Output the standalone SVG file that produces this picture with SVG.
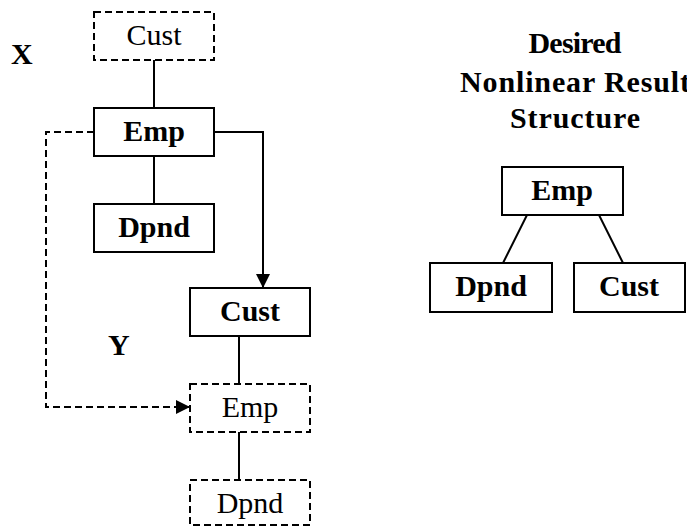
<svg xmlns="http://www.w3.org/2000/svg" width="687" height="527" viewBox="0 0 687 527" font-family="Liberation Serif, Times New Roman, DejaVu Serif, serif">
<style>
.box{fill:#fff;stroke:#000;stroke-width:2}
.dbox{fill:#fff;stroke:#000;stroke-width:2;stroke-dasharray:7 4}
.ln{fill:none;stroke:#000;stroke-width:2}
.dln{fill:none;stroke:#000;stroke-width:2;stroke-dasharray:7 4}
.t{font-size:30px;text-anchor:middle;fill:#000}
.b{font-weight:bold}
.lbl{font-size:30px;font-weight:bold;fill:#000}
.ttl{font-size:30px;font-weight:bold;text-anchor:middle;fill:#000}
</style>
<defs>
<marker id="ah" markerWidth="14" markerHeight="14" refX="13" refY="7" orient="auto" markerUnits="userSpaceOnUse">
<path d="M0,0 L14,7 L0,14 Z" fill="#000"/>
</marker>
</defs>
<rect width="687" height="527" fill="#fff"/>
<g id="connectors">
<line class="ln" x1="154" y1="60" x2="154" y2="108"/>
<line class="ln" x1="154" y1="156" x2="154" y2="204"/>
<polyline class="ln" points="214,132 263,132 263,287" marker-end="url(#ah)"/>
<polyline class="dln" points="94,132 46,132 46,407 189,407" marker-end="url(#ah)"/>
<line class="ln" x1="239" y1="336" x2="239" y2="383"/>
<line class="ln" x1="239" y1="432" x2="239" y2="480"/>
<line class="ln" x1="527" y1="215" x2="503" y2="263"/>
<line class="ln" x1="599" y1="215" x2="623" y2="263"/>
</g>
<g id="labels">
<text class="lbl" x="11" y="64" font-family="Liberation Serif, serif">X</text>
<text class="lbl" x="108" y="355" font-family="Liberation Serif, serif">Y</text>
<text class="ttl" x="575" y="53" font-family="Liberation Serif, serif" textLength="93" lengthAdjust="spacing">Desired</text>
<text class="ttl" x="575" y="92" font-family="Liberation Serif, serif" textLength="230" lengthAdjust="spacing">Nonlinear Result</text>
<text class="ttl" x="575" y="128" font-family="Liberation Serif, serif" textLength="130" lengthAdjust="spacing">Structure</text>
</g>
<g id="cust-x">
<rect class="dbox" x="94" y="12" width="120" height="48"/>
<text class="t" x="154" y="45" font-family="Liberation Serif, serif">Cust</text>
</g>
<g id="emp-x">
<rect class="box" x="94" y="108" width="120" height="48"/>
<text class="t b" x="154" y="141" font-family="Liberation Serif, serif">Emp</text>
</g>
<g id="dpnd-x">
<rect class="box" x="94" y="204" width="120" height="48"/>
<text class="t b" x="154" y="237" font-family="Liberation Serif, serif">Dpnd</text>
</g>
<g id="cust-y">
<rect class="box" x="190" y="288" width="120" height="48"/>
<text class="t b" x="250" y="321" font-family="Liberation Serif, serif">Cust</text>
</g>
<g id="emp-y">
<rect class="dbox" x="190" y="384" width="120" height="48"/>
<text class="t" x="250" y="417" font-family="Liberation Serif, serif">Emp</text>
</g>
<g id="dpnd-y">
<rect class="dbox" x="190" y="480" width="120" height="45"/>
<text class="t" x="250" y="513" font-family="Liberation Serif, serif">Dpnd</text>
</g>
<g id="emp-r">
<rect class="box" x="502" y="167" width="121" height="48"/>
<text class="t b" x="562" y="200" font-family="Liberation Serif, serif">Emp</text>
</g>
<g id="dpnd-r">
<rect class="box" x="430" y="263" width="122" height="49"/>
<text class="t b" x="491" y="296" font-family="Liberation Serif, serif">Dpnd</text>
</g>
<g id="cust-r">
<rect class="box" x="574" y="263" width="111" height="49"/>
<text class="t b" x="629" y="296" font-family="Liberation Serif, serif">Cust</text>
</g>
</svg>
